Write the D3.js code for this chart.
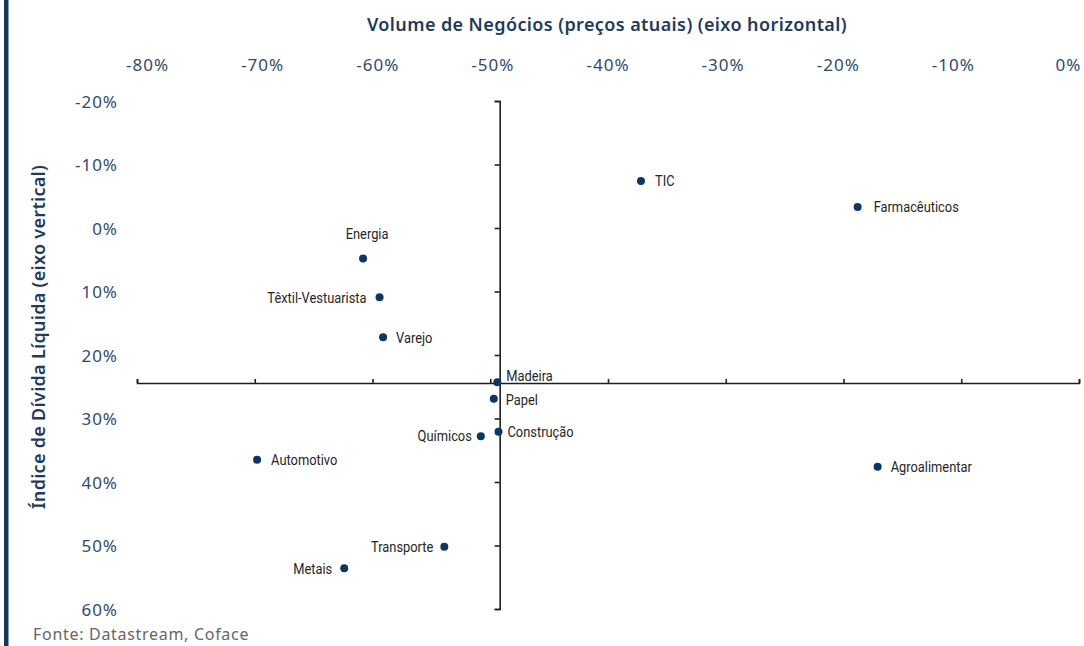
<!DOCTYPE html>
<html>
<head>
<meta charset="utf-8">
<script src="https://cdn.jsdelivr.net/npm/d3@7/dist/d3.min.js"></script>
<style>
  html, body { margin: 0; padding: 0; background: #fff; }
  svg { display: block; }
</style>
</head>
<body>
<svg id="chart" width="1084" height="646"></svg>
<script>
// Sectors: change in turnover (current prices) vs. net debt ratio, in %
const sectors  = ["TIC", "Farmacêuticos", "Energia", "Têxtil-Vestuarista", "Varejo", "Madeira", "Papel",
                  "Químicos", "Construção", "Automotivo", "Agroalimentar", "Transporte", "Metais"];
const turnover = [-37.2, -18.8, -60.8, -59.4, -59.1, -49.4, -49.7, -50.8, -49.3, -69.8, -17.1, -53.9, -62.4];
const netDebt  = [-7.4, -3.3, 4.8, 10.9, 17.2, 24.3, 26.9, 32.8, 32.1, 36.5, 37.6, 50.2, 53.6];

const xTicks = [-80, -70, -60, -50, -40, -30, -20, -10, 0];
const yTicks = [-20, -10, 0, 10, 20, 30, 40, 50, 60];

// Where the two axes cross each other
const xCross = -49.2;
const yCross = 24.4;

const titleX = "Volume de Negócios (preços atuais) (eixo horizontal)";
const titleY = "Índice de Dívida Líquida (eixo vertical)";
const source = "Fonte: Datastream, Coface";

// Label placement around each dot
const labelPlace = {
  "TIC":               { anchor: "start",  dx: 14,  dy: 0 },
  "Farmacêuticos":     { anchor: "start",  dx: 16,  dy: 0 },
  "Energia":           { anchor: "middle", dx: 4,   dy: -25 },
  "Têxtil-Vestuarista":{ anchor: "end",    dx: -13, dy: 0 },
  "Varejo":            { anchor: "start",  dx: 13,  dy: 0 },
  "Madeira":           { anchor: "start",  dx: 9,   dy: -7 },
  "Papel":             { anchor: "start",  dx: 12,  dy: 1 },
  "Químicos":          { anchor: "end",    dx: -9,  dy: -1 },
  "Construção":        { anchor: "start",  dx: 9,   dy: 0 },
  "Automotivo":        { anchor: "start",  dx: 14,  dy: 0 },
  "Agroalimentar":     { anchor: "start",  dx: 13,  dy: 0 },
  "Transporte":        { anchor: "end",    dx: -11, dy: 0 },
  "Metais":            { anchor: "end",    dx: -12, dy: 0 }
};

const navy = "#17375e";
const tickText = "#2d4b72";
const sans = "'Noto Sans', 'Open Sans', sans-serif";
const narrow = "'Liberation Sans Narrow', 'Roboto', 'Noto Sans', sans-serif";
const squeeze = 0.83;   // horizontal compression for the condensed point labels

const svg = d3.select("#chart");
svg.append("rect").attr("width", 1084).attr("height", 646).attr("fill", "#fff");

// left accent bar
svg.append("rect").attr("x", 4).attr("y", 0).attr("width", 4.5).attr("height", 646).attr("fill", navy);

// plotting scales
const x = d3.scaleLinear().domain([-80, 0]).range([137, 1079]);
const y = d3.scaleLinear().domain([-20, 60]).range([101, 609]);
// scale for the tick-label row along the top
const xLabel = d3.scaleLinear().domain([-80, 0]).range([147, 1068]);

const pct = d => d + "%";

// top tick labels
const topAxis = svg.append("g")
  .attr("transform", "translate(0,71)")
  .call(d3.axisTop(xLabel).tickValues(xTicks).tickFormat(pct).tickSize(0).tickPadding(0));
topAxis.select(".domain").remove();
topAxis.selectAll("text")
  .attr("fill", tickText).style("font-family", sans).style("font-size", "17px")
  .style("letter-spacing", "1px");

// left tick labels
const leftAxis = svg.append("g")
  .attr("transform", "translate(118,1)")
  .call(d3.axisLeft(y).tickValues(yTicks).tickFormat(pct).tickSize(0).tickPadding(0));
leftAxis.select(".domain").remove();
leftAxis.selectAll("text")
  .attr("fill", tickText).style("font-family", sans).style("font-size", "17px")
  .style("letter-spacing", "1px");

// crossing axes
const hAxis = svg.append("g")
  .attr("transform", `translate(0,${y(yCross)})`)
  .call(d3.axisTop(x).tickValues(xTicks).tickFormat("").tickSize(4).tickSizeOuter(4));
const vAxis = svg.append("g")
  .attr("transform", `translate(${x(xCross)},0)`)
  .call(d3.axisLeft(y).tickValues(yTicks).tickFormat("").tickSize(5).tickSizeOuter(5));
[hAxis, vAxis].forEach(g => {
  g.selectAll("path, line").attr("stroke", "#1e1e1e").attr("stroke-width", 1.6);
});

// axis titles
svg.append("text")
  .attr("x", 607).attr("y", 31)
  .attr("text-anchor", "middle")
  .attr("fill", "#1c3b62")
  .style("font-family", sans).style("font-size", "18px").style("font-weight", 600)
  .style("letter-spacing", "0.4px")
  .text(titleX);

svg.append("text")
  .attr("transform", "translate(45,337) rotate(-90)")
  .attr("text-anchor", "middle")
  .attr("fill", "#1c3b62")
  .style("font-family", sans).style("font-size", "18px").style("font-weight", 600)
  .style("letter-spacing", "0.3px")
  .text(titleY);

// points
const pts = sectors.map((s, i) => ({ name: s, tx: turnover[i], nd: netDebt[i] }));

svg.append("g").selectAll("circle")
  .data(pts).join("circle")
  .attr("cx", d => x(d.tx)).attr("cy", d => y(d.nd))
  .attr("r", 4).attr("fill", "#0b3764");

svg.append("g").selectAll("text")
  .data(pts).join("text")
  .attr("transform", d =>
    `translate(${x(d.tx) + labelPlace[d.name].dx},${y(d.nd) + labelPlace[d.name].dy}) scale(${squeeze},1)`)
  .attr("dy", "0.35em")
  .attr("text-anchor", d => labelPlace[d.name].anchor)
  .attr("fill", "#262626")
  .style("font-family", narrow).style("font-size", "15.5px")
  .text(d => d.name);

// source line
svg.append("text")
  .attr("x", 33).attr("y", 640)
  .attr("fill", "#666")
  .style("font-family", sans).style("font-size", "16px")
  .style("letter-spacing", "0.7px")
  .text(source);
</script>
</body>
</html>
